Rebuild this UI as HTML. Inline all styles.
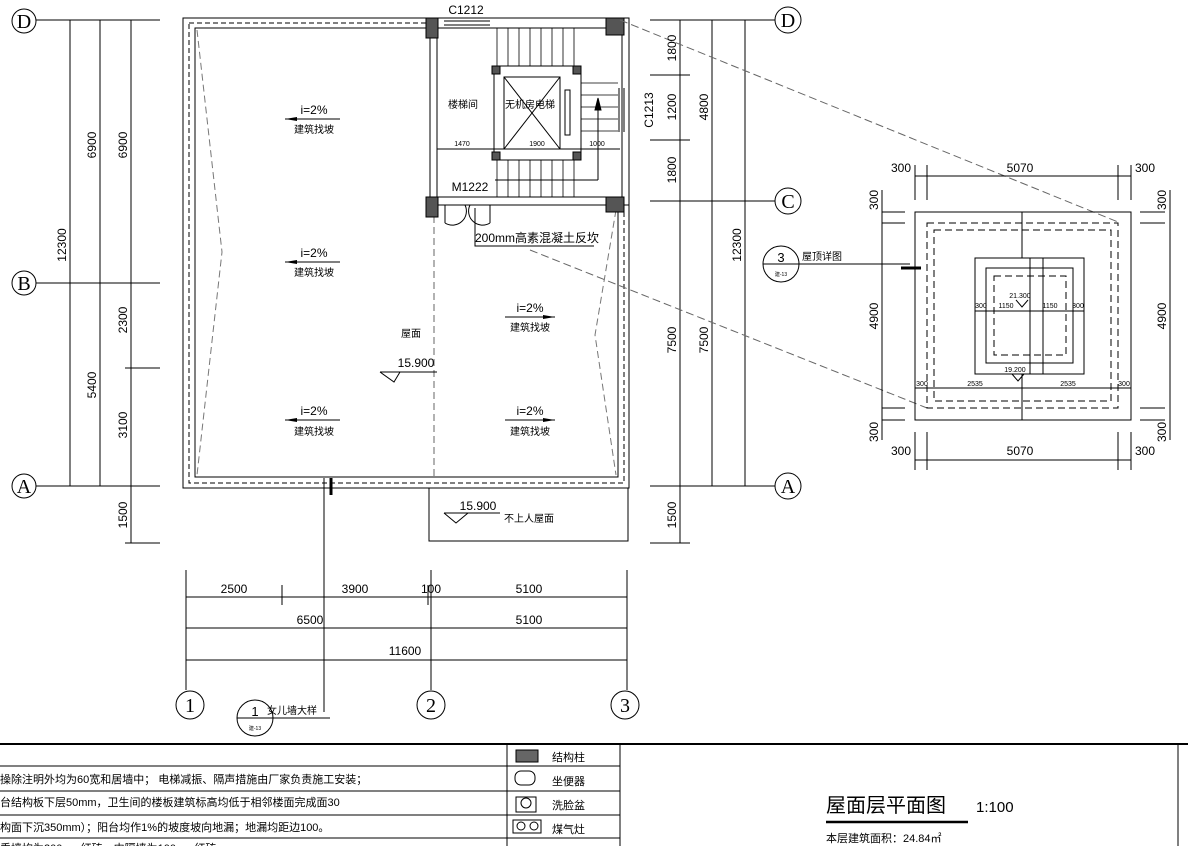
<!DOCTYPE html>
<html><head><meta charset="utf-8"><style>
html,body{margin:0;padding:0;background:#fff;}
svg{display:block;font-family:"Liberation Sans","Noto Sans CJK SC",sans-serif;}
</style></head><body>
<svg width="1188" height="846" viewBox="0 0 1188 846" xmlns="http://www.w3.org/2000/svg">
<rect width="1188" height="846" fill="#fff"/>
<g stroke="#000" stroke-width="1" fill="none">
<circle cx="24" cy="21" r="12"/><circle cx="24" cy="283" r="12"/><circle cx="24" cy="486" r="12"/>
<line x1="36" y1="20" x2="160" y2="20"/><line x1="36" y1="283" x2="160" y2="283"/><line x1="36" y1="486" x2="160" y2="486"/>
<line x1="125" y1="368" x2="160" y2="368"/><line x1="125" y1="543" x2="160" y2="543"/>
<line x1="70" y1="20" x2="70" y2="486"/><line x1="100" y1="20" x2="100" y2="486"/><line x1="131" y1="20" x2="131" y2="543"/>
<circle cx="788" cy="20" r="13"/><circle cx="788" cy="201" r="13"/><circle cx="788" cy="486" r="13"/>
<line x1="650" y1="20" x2="775" y2="20"/><line x1="650" y1="201" x2="775" y2="201"/><line x1="650" y1="486" x2="775" y2="486"/>
<line x1="650" y1="75" x2="690" y2="75"/><line x1="650" y1="140" x2="690" y2="140"/><line x1="650" y1="543" x2="690" y2="543"/>
<line x1="680" y1="20" x2="680" y2="543"/><line x1="712" y1="20" x2="712" y2="486"/><line x1="745" y1="20" x2="745" y2="486"/>
<rect x="183" y="18" width="446" height="470"/>
<rect x="195" y="28" width="423" height="449"/>
<rect x="189" y="23" width="435" height="460" stroke-dasharray="5,3"/>
<line x1="434" y1="205" x2="434" y2="477" stroke="#666" stroke-dasharray="7,4"/>
<polyline points="197,30 222,252 197,475" stroke="#777" stroke-dasharray="7,4"/>
<polyline points="616,210 595,335 616,475" stroke="#777" stroke-dasharray="7,4"/>
<rect x="430" y="18" width="199" height="187" fill="#fff"/>
<rect x="437" y="28" width="185" height="169"/>
<line x1="444" y1="21" x2="490" y2="21"/><line x1="444" y1="25" x2="490" y2="25"/>
<line x1="619" y1="88" x2="619" y2="132"/><line x1="624" y1="88" x2="624" y2="132"/>
<g stroke-width="0.8">
<line x1="497" y1="28" x2="497" y2="66"/><line x1="508" y1="28" x2="508" y2="66"/><line x1="519" y1="28" x2="519" y2="66"/><line x1="530" y1="28" x2="530" y2="66"/><line x1="541" y1="28" x2="541" y2="66"/><line x1="552" y1="28" x2="552" y2="66"/><line x1="563" y1="28" x2="563" y2="66"/><line x1="574" y1="28" x2="574" y2="66"/>
<line x1="497" y1="160" x2="497" y2="197"/><line x1="508" y1="160" x2="508" y2="197"/><line x1="519" y1="160" x2="519" y2="197"/><line x1="530" y1="160" x2="530" y2="197"/><line x1="541" y1="160" x2="541" y2="197"/><line x1="552" y1="160" x2="552" y2="197"/><line x1="563" y1="160" x2="563" y2="197"/><line x1="574" y1="160" x2="574" y2="197"/>
<line x1="581" y1="83" x2="618" y2="83"/><line x1="581" y1="95" x2="618" y2="95"/><line x1="581" y1="107" x2="618" y2="107"/><line x1="581" y1="119" x2="618" y2="119"/><line x1="581" y1="131" x2="618" y2="131"/>
</g>
<rect x="494" y="66" width="87" height="94"/>
<rect x="504" y="77" width="56" height="72"/>
<line x1="504" y1="77" x2="560" y2="149"/><line x1="560" y1="77" x2="504" y2="149"/>
<rect x="565" y="90" width="5" height="45"/>
<line x1="437" y1="149" x2="620" y2="149"/>
<line x1="598" y1="98" x2="598" y2="180"/><line x1="495" y1="180" x2="598" y2="180"/>
<path d="M595 110 L598 98 L601 110 Z" fill="#000"/>
<rect x="426" y="18" width="12" height="20" fill="#555"/><rect x="606" y="18" width="18" height="17" fill="#555"/>
<rect x="426" y="197" width="12" height="20" fill="#555"/><rect x="606" y="197" width="18" height="15" fill="#555"/>
<rect x="492" y="66" width="8" height="8" fill="#555"/><rect x="573" y="66" width="8" height="8" fill="#555"/>
<rect x="492" y="152" width="8" height="8" fill="#555"/><rect x="573" y="152" width="8" height="8" fill="#555"/>
<line x1="445" y1="205" x2="445" y2="223"/><line x1="490" y1="205" x2="490" y2="223"/>
<path d="M445 223 A14 14 0 0 0 465 205" /><path d="M490 223 A14 14 0 0 1 470 205"/>
<polyline points="475,208 475,246 594,246"/>
<line x1="620" y1="20" x2="1118" y2="222" stroke="#666" stroke-dasharray="8,4"/>
<line x1="530" y1="250" x2="927" y2="408" stroke="#666" stroke-dasharray="8,4"/>
<line x1="324" y1="478" x2="324" y2="712"/><line x1="331" y1="478" x2="331" y2="495" stroke-width="3"/>
<rect x="429" y="488" width="199" height="53"/>
<line x1="186" y1="570" x2="186" y2="690"/><line x1="431" y1="570" x2="431" y2="690"/><line x1="627" y1="570" x2="627" y2="690"/>
<line x1="282" y1="585" x2="282" y2="605"/><line x1="428" y1="585" x2="428" y2="605"/>
<line x1="186" y1="597" x2="627" y2="597"/><line x1="186" y1="628" x2="627" y2="628"/><line x1="186" y1="660" x2="627" y2="660"/>
<circle cx="190" cy="705" r="14"/><circle cx="431" cy="705" r="14"/><circle cx="625" cy="705" r="14"/>
<circle cx="255" cy="718" r="18"/><line x1="237" y1="718" x2="330" y2="718"/>
<circle cx="781" cy="264" r="18"/><line x1="763" y1="264" x2="910" y2="264"/><line x1="901" y1="268" x2="921" y2="268" stroke-width="3"/>
<rect x="915" y="212" width="216" height="208"/>
<rect x="927" y="223" width="191" height="185" stroke-dasharray="7,4"/>
<rect x="934" y="230" width="177" height="171" stroke-dasharray="7,4"/>
<rect x="975" y="258" width="109" height="116"/>
<rect x="986" y="268" width="87" height="95"/>
<rect x="994" y="276" width="72" height="79" stroke-dasharray="7,4"/>
<line x1="1022" y1="212" x2="1022" y2="258"/><line x1="1022" y1="374" x2="1022" y2="420"/>
<line x1="1030" y1="258" x2="1030" y2="374"/><line x1="1043" y1="258" x2="1043" y2="374"/>
<line x1="975" y1="311" x2="1084" y2="311"/><line x1="915" y1="388" x2="1131" y2="388"/>
<line x1="915" y1="176" x2="1131" y2="176"/><line x1="915" y1="460" x2="1131" y2="460"/>
<line x1="915" y1="165" x2="915" y2="200"/><line x1="927" y1="165" x2="927" y2="200"/><line x1="1118" y1="165" x2="1118" y2="200"/><line x1="1131" y1="165" x2="1131" y2="200"/>
<line x1="915" y1="432" x2="915" y2="470"/><line x1="927" y1="432" x2="927" y2="470"/><line x1="1118" y1="432" x2="1118" y2="470"/><line x1="1131" y1="432" x2="1131" y2="470"/>
<line x1="882" y1="212" x2="905" y2="212"/><line x1="882" y1="223" x2="905" y2="223"/><line x1="882" y1="408" x2="905" y2="408"/><line x1="882" y1="420" x2="905" y2="420"/>
<line x1="1140" y1="212" x2="1165" y2="212"/><line x1="1140" y1="223" x2="1165" y2="223"/><line x1="1140" y1="408" x2="1165" y2="408"/><line x1="1140" y1="420" x2="1165" y2="420"/>
<line x1="882" y1="190" x2="882" y2="440"/><line x1="1170" y1="190" x2="1170" y2="440"/>
<line x1="0" y1="744" x2="1188" y2="744" stroke-width="2"/>
<line x1="0" y1="766" x2="620" y2="766"/><line x1="0" y1="791" x2="620" y2="791"/><line x1="0" y1="815" x2="620" y2="815"/><line x1="0" y1="838" x2="620" y2="838"/>
<line x1="507" y1="744" x2="507" y2="846"/><line x1="620" y1="744" x2="620" y2="846"/><line x1="1178" y1="744" x2="1178" y2="846"/>
<rect x="516" y="750" width="22" height="12" fill="#666"/>
<rect x="515" y="771" width="20" height="14" rx="6"/><rect x="516" y="797" width="20" height="15"/><circle cx="526" cy="803" r="5"/>
<rect x="513" y="820" width="28" height="13"/><circle cx="521" cy="826" r="4"/><circle cx="534" cy="826" r="4"/>
<line x1="826" y1="822" x2="968" y2="822" stroke-width="2.5"/>
</g>
<g stroke="#000" fill="none">
<path d="M380 372 L394 382 L400 372" /><line x1="380" y1="372" x2="437" y2="372"/>
<path d="M444 513 L456 523 L468 513"/><line x1="444" y1="513" x2="500" y2="513"/>
<path d="M1012 374 L1018 381 L1024 374"/><path d="M1016 300 L1022 307 L1028 300"/>
</g>
<g stroke="#000">
<line x1="285" y1="119" x2="340" y2="119"/><line x1="285" y1="262" x2="340" y2="262"/><line x1="285" y1="420" x2="340" y2="420"/>
<line x1="505" y1="317" x2="555" y2="317"/><line x1="505" y1="420" x2="555" y2="420"/>
</g>
<g fill="#000">
<path d="M285 119 L297 117 L297 121 Z"/><path d="M285 262 L297 260 L297 264 Z"/><path d="M285 420 L297 418 L297 422 Z"/>
<path d="M555 317 L543 315 L543 319 Z"/><path d="M555 420 L543 418 L543 422 Z"/>
</g>
<g fill="#000" font-size="12" text-anchor="middle">
<text x="314" y="114">i=2%</text><text x="314" y="257">i=2%</text><text x="314" y="415">i=2%</text>
<text x="530" y="312">i=2%</text><text x="530" y="415">i=2%</text>
<g font-size="10"><text x="314" y="133">建筑找坡</text><text x="314" y="276">建筑找坡</text><text x="314" y="435">建筑找坡</text>
<text x="530" y="331">建筑找坡</text><text x="530" y="435">建筑找坡</text>
<text x="411" y="337">屋面</text><text x="463" y="108">楼梯间</text><text x="530" y="108">无机房电梯</text></g>
<text x="416" y="367">15.900</text><text x="478" y="510">15.900</text>
<text x="466" y="14">C1212</text><text x="470" y="191">M1222</text>
<text x="537" y="242">200mm高素混凝土反坎</text>
<text x="529" y="522" font-size="10">不上人屋面</text>
<text x="234" y="593">2500</text><text x="355" y="593">3900</text><text x="431" y="593">100</text><text x="529" y="593">5100</text>
<text x="310" y="624">6500</text><text x="529" y="624">5100</text><text x="405" y="655">11600</text>
<g font-size="20" font-family="Liberation Serif,serif"><text x="24" y="28">D</text><text x="24" y="290">B</text><text x="24" y="493">A</text>
<text x="788" y="27">D</text><text x="788" y="208">C</text><text x="788" y="493">A</text>
<text x="190" y="712">1</text><text x="431" y="712">2</text><text x="625" y="712">3</text></g>
<text x="255" y="716" font-size="13">1</text><text x="781" y="262" font-size="13">3</text>
<text x="255" y="730" font-size="5">建-13</text><text x="781" y="276" font-size="5">建-13</text>
<text x="292" y="714" font-size="10">女儿墙大样</text><text x="822" y="260" font-size="10">屋顶详图</text>
<text x="901" y="172">300</text><text x="1020" y="172">5070</text><text x="1145" y="172">300</text>
<text x="901" y="455">300</text><text x="1020" y="455">5070</text><text x="1145" y="455">300</text>
<g font-size="7"><text x="1020" y="298">21.300</text><text x="1015" y="372">19.200</text>
<text x="981" y="308">300</text><text x="1006" y="308">1150</text><text x="1050" y="308">1150</text><text x="1078" y="308">300</text>
<text x="922" y="386">300</text><text x="975" y="386">2535</text><text x="1068" y="386">2535</text><text x="1124" y="386">300</text>
<text x="462" y="146">1470</text><text x="537" y="146">1900</text><text x="597" y="146">1000</text></g>
</g>
<g fill="#000" font-size="12" text-anchor="middle">
<text transform="translate(66,245) rotate(-90)">12300</text>
<text transform="translate(96,145) rotate(-90)">6900</text><text transform="translate(127,145) rotate(-90)">6900</text>
<text transform="translate(96,385) rotate(-90)">5400</text><text transform="translate(127,320) rotate(-90)">2300</text>
<text transform="translate(127,425) rotate(-90)">3100</text><text transform="translate(127,515) rotate(-90)">1500</text>
<text transform="translate(676,48) rotate(-90)">1800</text><text transform="translate(676,107) rotate(-90)">1200</text>
<text transform="translate(676,170) rotate(-90)">1800</text><text transform="translate(676,340) rotate(-90)">7500</text>
<text transform="translate(676,515) rotate(-90)">1500</text>
<text transform="translate(708,107) rotate(-90)">4800</text><text transform="translate(708,340) rotate(-90)">7500</text>
<text transform="translate(741,245) rotate(-90)">12300</text>
<text transform="translate(653,110) rotate(-90)">C1213</text>
<text transform="translate(878,200) rotate(-90)">300</text><text transform="translate(878,316) rotate(-90)">4900</text><text transform="translate(878,432) rotate(-90)">300</text>
<text transform="translate(1166,200) rotate(-90)">300</text><text transform="translate(1166,316) rotate(-90)">4900</text><text transform="translate(1166,432) rotate(-90)">300</text>
</g>
<g fill="#000" font-size="11">
<text x="0" y="783">操除注明外均为60宽和居墙中；  电梯减振、隔声措施由厂家负责施工安装；</text>
<text x="0" y="806">台结构板下层50mm，卫生间的楼板建筑标高均低于相邻楼面完成面30</text>
<text x="0" y="831">构面下沉350mm）；阳台均作1%的坡度坡向地漏；地漏均距边100。</text>
<text x="0" y="852">垂墙均为200mm红砖，内隔墙为100mm红砖</text>
<text x="552" y="761">结构柱</text><text x="552" y="785">坐便器</text><text x="552" y="809">洗脸盆</text><text x="552" y="833">煤气灶</text>
<text x="826" y="812" font-size="20">屋面层平面图</text><text x="976" y="812" font-size="15">1:100</text>
<text x="826" y="842" font-size="11">本层建筑面积：24.84㎡</text>
</g>
</svg>
</body></html>
